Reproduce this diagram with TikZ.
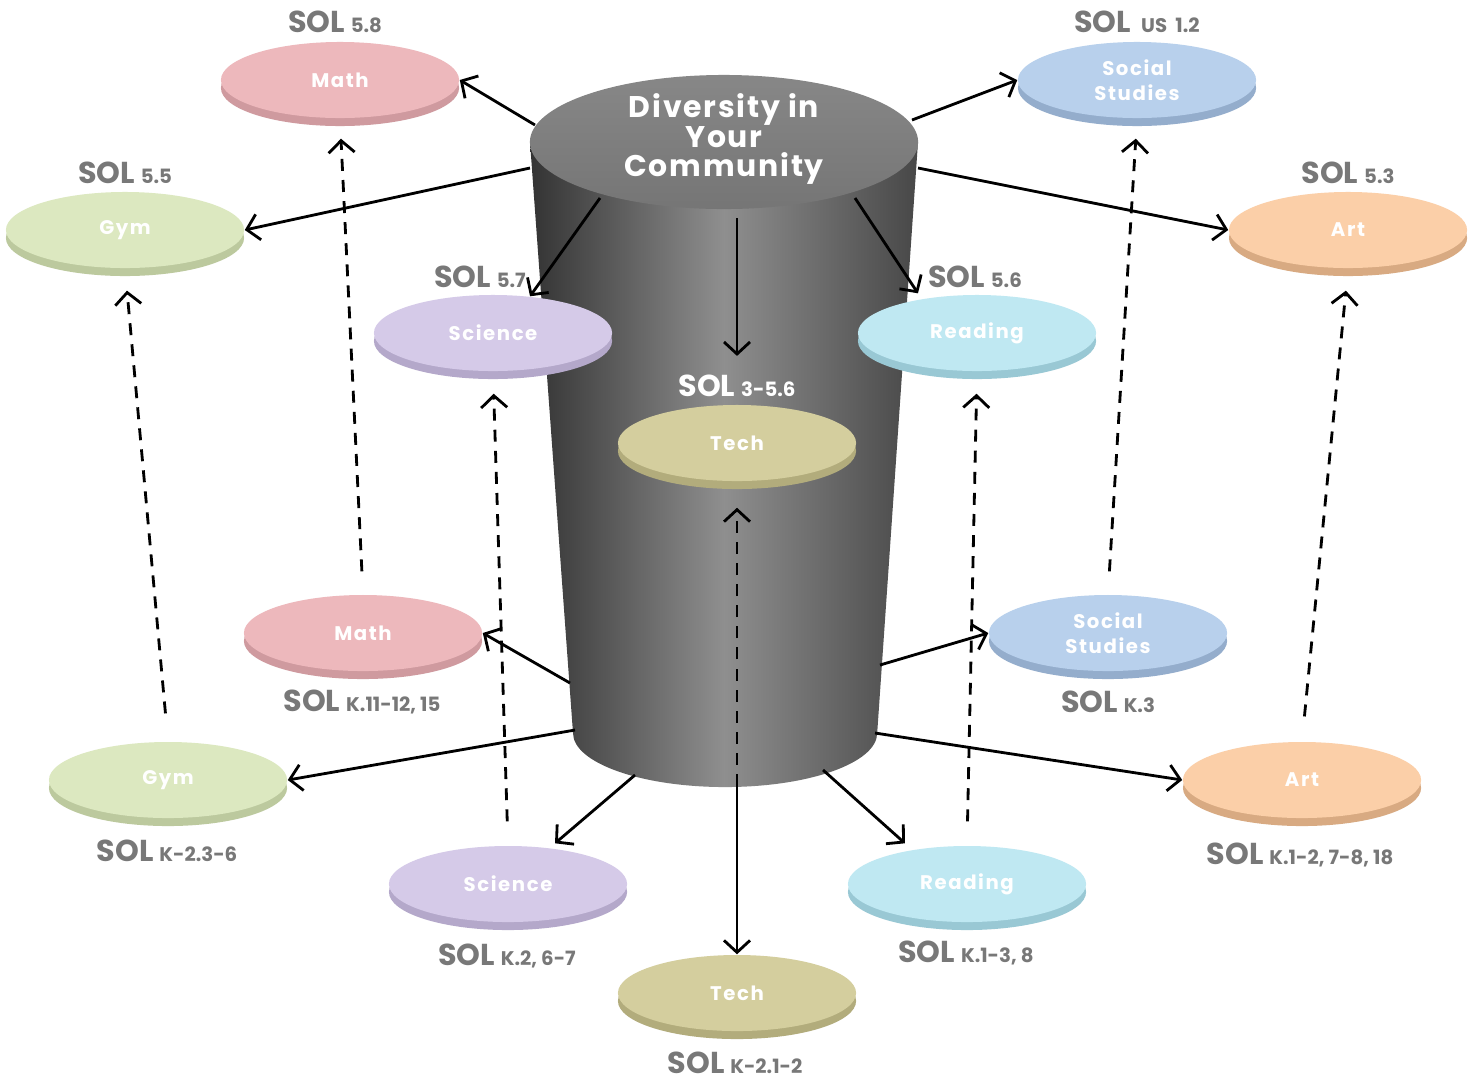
\documentclass[tikz,border=0pt]{standalone}
\usepackage{fontspec}
\setmainfont{Poppins}
\usetikzlibrary{shapes.geometric,arrows.meta}
\definecolor{solgray}{HTML}{787878}
\definecolor{mathc}{HTML}{EDB8BC}\definecolor{maths}{HTML}{CF9A9F}
\definecolor{gymc}{HTML}{DCE8C0}\definecolor{gyms}{HTML}{BCC99E}
\definecolor{scic}{HTML}{D5CAE8}\definecolor{scis}{HTML}{B4A8CA}
\definecolor{techc}{HTML}{D4CE9E}\definecolor{techs}{HTML}{B2AC7C}
\definecolor{readc}{HTML}{BFE8F2}\definecolor{reads}{HTML}{99C8D4}
\definecolor{socc}{HTML}{B8D0EC}\definecolor{socs}{HTML}{94ADCC}
\definecolor{artc}{HTML}{FBCFA8}\definecolor{arts}{HTML}{D8AA82}
\newcommand\sollabel[1]{{\fontsize{8.6}{9}\selectfont\bfseries SOL}\,{\fontsize{5.6}{6}\selectfont\bfseries #1}}
\newcommand\mydisc[5]{%
  \fill[#4s] (#2,#3) ++(0,8) ellipse [x radius=1.19cm, y radius=0.38cm];
  \node[discnode, fill=#4c] (#1) at (#2,#3) {#5};}
\begin{document}
\begin{tikzpicture}[x=0.01cm,y=-0.01cm,
  discnode/.style={ellipse, inner sep=0pt, minimum width=2.38cm, minimum height=0.76cm,
    text=white, font=\fontsize{5.6}{7}\selectfont\bfseries\addfontfeature{LetterSpace=8}, align=center},
  sol/.style={text=solgray, inner sep=1pt},
  conn/.style={draw=black, line width=0.8pt, -{Straight Barb[length=1.2mm,width=2.6mm]}},
  dconn/.style={draw=black, line width=0.8pt, dash pattern=on 3.4pt off 2.6pt, -{Straight Barb[length=1.2mm,width=2.6mm]}}]
\useasboundingbox[fill=white] (0,0) rectangle (1483,1081);
% cylinder
\shade[left color=black!80, right color=black!72, middle color=black!44]
  (530,142) -- (573,733) arc[start angle=180, end angle=360, x radius=1.52cm, y radius=0.54cm]
  -- (918,142) -- cycle;
\shade[top color=black!47, bottom color=black!54] (724,142) ellipse [x radius=1.94cm, y radius=0.67cm];
\node[text=white, font=\fontsize{8.5}{8.3}\selectfont\bfseries\addfontfeature{LetterSpace=6}, align=center, inner sep=0pt]
  (topic) at (724,139) {Diversity in\\Your\\Community};
% cylinder connection points
\coordinate (cMath) at (535,125);
\coordinate (cGym) at (530,168);
\coordinate (cSci) at (600,198);
\coordinate (cTech) at (737,218);
\coordinate (cRead) at (855,198);
\coordinate (cSoc) at (912,120);
\coordinate (cArt) at (918,168);
\coordinate (cMath0) at (570,683);
\coordinate (cGym0) at (575,730);
\coordinate (cSci0) at (635,775);
\coordinate (cTech0) at (737,786);
\coordinate (cRead0) at (823,770);
\coordinate (cArt0) at (875,733);
\coordinate (cSoc0) at (880,665);
% discs (upper)
\mydisc{math5}{340}{80}{math}{Math}
\mydisc{gym5}{125}{230}{gym}{Gym}
\mydisc{sci5}{493}{333}{sci}{Science}
\mydisc{tech5}{737}{443}{tech}{Tech}
\mydisc{read5}{977}{333}{read}{Reading}
\mydisc{soc5}{1137}{80}{soc}{Social\\Studies}
\mydisc{art5}{1348}{230}{art}{Art}
% discs (lower)
\mydisc{math0}{363}{633}{math}{Math}
\mydisc{soc0}{1108}{633}{soc}{Social\\Studies}
\mydisc{gym0}{168}{780}{gym}{Gym}
\mydisc{art0}{1302}{780}{art}{Art}
\mydisc{sci0}{508}{884}{sci}{Science}
\mydisc{read0}{967}{884}{read}{Reading}
\mydisc{tech0}{737}{993}{tech}{Tech}
% labels
\node[sol] (lmath5) at (335,22) {\sollabel{5.8}};
\node[sol] (lgym5) at (125,173) {\sollabel{5.5}};
\node[sol] (lsci5) at (480,277) {\sollabel{5.7}};
\node[sol, text=white] (ltech5) at (737,386) {\sollabel{3-5.6}};
\node[sol] (lread5) at (975,277) {\sollabel{5.6}};
\node[sol] (lsoc5) at (1137,22) {\sollabel{\ US\ \ 1.2}};
\node[sol] (lart5) at (1348,173) {\sollabel{5.3}};
\node[sol] (lmath0) at (362,702) {\sollabel{K.11-12, 15}};
\node[sol] (lsoc0) at (1108,702) {\sollabel{K.3}};
\node[sol] (lgym0) at (167,851) {\sollabel{K-2.3-6}};
\node[sol] (lart0) at (1300,855) {\sollabel{K.1-2, 7-8, 18}};
\node[sol] (lsci0) at (507,956) {\sollabel{K.2, 6-7}};
\node[sol] (lread0) at (966,953) {\sollabel{K.1-3, 8}};
\node[sol] (ltech0) at (735,1063) {\sollabel{K-2.1-2}};
% solid connectors (upper)
\draw[conn] (cMath) -- (math5.east);
\draw[conn] (cGym) -- (gym5.east);
\draw[conn] (cSci) -- ([xshift=0.37cm,yshift=-0.02cm]sci5.north);
\draw[conn] (cTech) -- ([yshift=0.15cm]ltech5.north);
\draw[conn] (cRead) -- ([xshift=-0.59cm,yshift=0.01cm]read5.north);
\draw[conn] (cSoc) -- (soc5.west);
\draw[conn] (cArt) -- (art5.west);
% solid connectors (lower)
\draw[conn] (cMath0) -- (math0.east);
\draw[conn] (cGym0) -- (gym0.east);
\draw[conn] (cSci0) -- ([xshift=0.47cm,yshift=0.02cm]sci0.north);
\draw[conn] (cTech0) -- (tech0.north);
\draw[conn] (cRead0) -- ([xshift=-0.62cm,yshift=0.02cm]read0.north);
\draw[conn] (cArt0) -- (art0.west);
\draw[conn] (cSoc0) -- (soc0.west);
% dashed connectors
\draw[dconn, shorten <=0.23cm, shorten >=0.2cm] (math0.north) -- (math5.south);
\draw[dconn, shorten <=0.28cm, shorten >=0.22cm] (gym0.north) -- (gym5.south);
\draw[dconn, shorten <=0.24cm, shorten >=0.22cm] (sci0.north) -- (sci5.south);
\draw[dconn, shorten >=0.26cm] (cTech0) -- (tech5.south);
\draw[dconn, shorten <=0.24cm, shorten >=0.22cm] (read0.north) -- (read5.south);
\draw[dconn, shorten <=0.23cm, shorten >=0.2cm] (soc0.north) -- (soc5.south);
\draw[dconn, shorten <=0.25cm, shorten >=0.22cm] (art0.north) -- (art5.south);
\end{tikzpicture}
\end{document}
